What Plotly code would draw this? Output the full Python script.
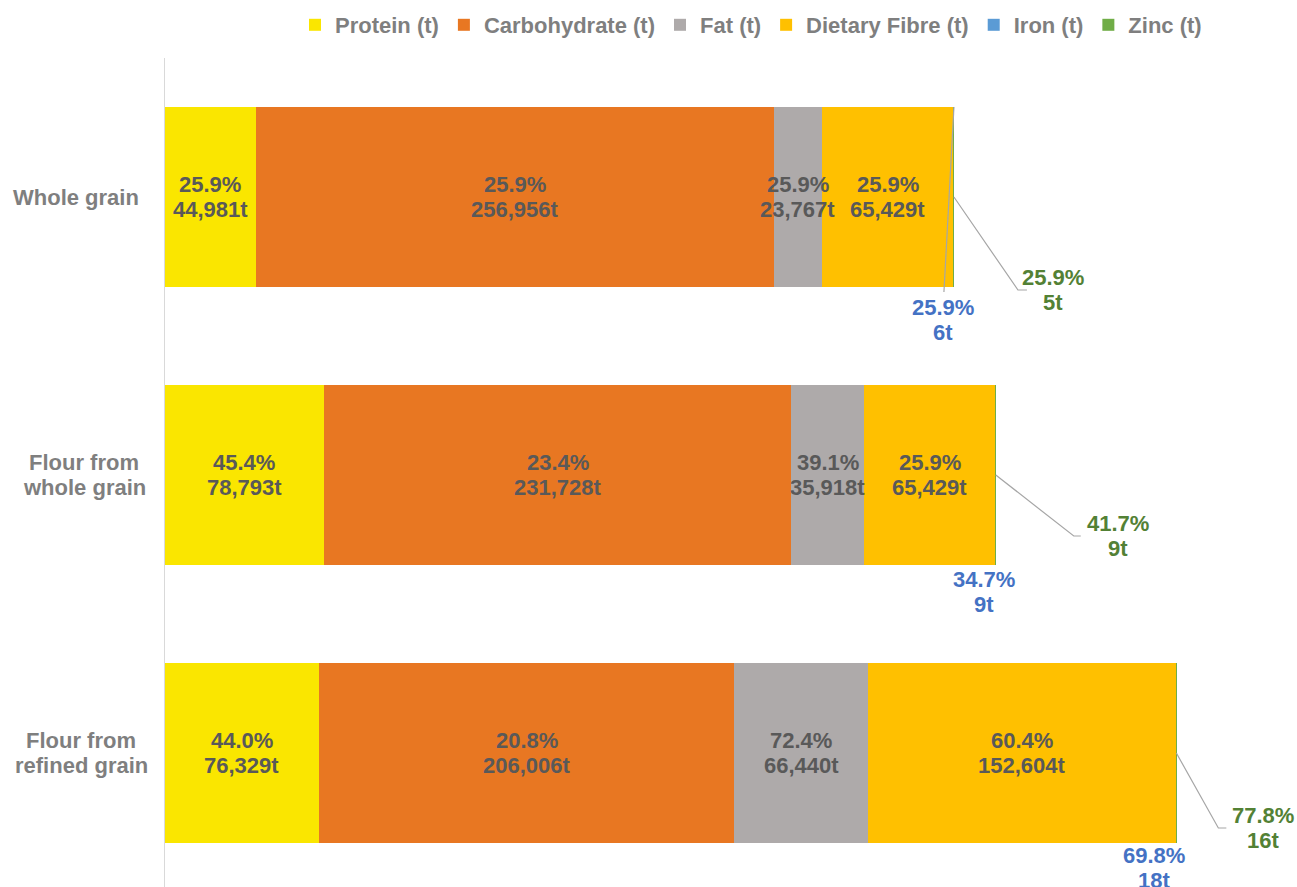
import plotly.graph_objects as go

categories = ["Whole grain", "Flour from whole grain", "Flour from refined grain"]
category_lines = [["Whole grain"], ["Flour from", "whole grain"], ["Flour from", "refined grain"]]

protein = [44981, 78793, 76329]
carb = [256956, 231728, 206006]
fat = [23767, 35918, 66440]
fibre = [65429, 65429, 152604]
iron = [6, 9, 18]
zinc = [5, 9, 16]

protein_pct = ["25.9%", "45.4%", "44.0%"]
carb_pct = ["25.9%", "23.4%", "20.8%"]
fat_pct = ["25.9%", "39.1%", "72.4%"]
fibre_pct = ["25.9%", "25.9%", "60.4%"]
iron_pct = ["25.9%", "34.7%", "69.8%"]
zinc_pct = ["25.9%", "41.7%", "77.8%"]

# layout constants
W, H = 1297, 887
ML, MR, MT, MB = 165, 17, 58, 0
PLOT_W = W - ML - MR
PLOT_H = H - MT - MB
BAND = 278.0
XMAX = PLOT_W / 0.002017
PX_X = XMAX / PLOT_W  # data units per pixel (x)
PX_Y = 1.0 / BAND     # category units per pixel (y)
FONT = "Liberation Sans, Arial, sans-serif"
LABEL_COLOR = "#595959"
AXIS_TEXT = "#7F7F7F"
FS = 22
LINE_GAP = 25
CAT_LABEL_CENTER = [76, 84, 81]

fig = go.Figure()
series = [
    ("Protein (t)", protein, protein_pct, "#FAE600"),
    ("Carbohydrate (t)", carb, carb_pct, "#E87722"),
    ("Fat (t)", fat, fat_pct, "#AEAAAA"),
    ("Dietary Fibre (t)", fibre, fibre_pct, "#FFC000"),
    ("Iron (t)", iron, iron_pct, "#5B9BD5"),
    ("Zinc (t)", zinc, zinc_pct, "#70AD47"),
]
for name, vals, pcts, color in series:
    fig.add_trace(go.Bar(
        name=name, y=categories, x=vals, orientation="h",
        marker=dict(color=color, line=dict(width=0)),
        hoverinfo="skip",
    ))

annotations = []
shapes = []


def two_lines(x, y, lines, color, xref="x", xanchor="center"):
    n = len(lines)
    for k, line in enumerate(lines):
        shift = ((n - 1) / 2 - k) * LINE_GAP
        annotations.append(dict(xref=xref, yref="y", x=x, y=y, yshift=shift,
                                xanchor=xanchor, yanchor="middle",
                                showarrow=False, text=line,
                                font=dict(family=FONT, size=FS, color=color, weight="bold")))


# inside-bar labels
for r in range(3):
    start = 0
    for name, vals, pcts, color in series[:4]:
        mid = start + vals[r] / 2
        two_lines(mid, r, [pcts[r], f"{vals[r]:,}t"], LABEL_COLOR)
        start += vals[r]

totals = [p + c + f + d + i + z for p, c, f, d, i, z in zip(protein, carb, fat, fibre, iron, zinc)]

# label placement offsets (pixels relative to bar end / row centre)
zinc_leader = [[(0, 0), (64, 93), (73, 93)], [(0, 0), (78, 61), (85, 61)], [(0, 0), (42, 75), (50, 75)]]
zinc_label_off = [(99, 93), (122, 61), (87, 75)]
iron_leader = [[(0, -90), (-10, 95)], None, None]
iron_label_off = [(-11, 123), (-12, 117), (-22, 115)]

for r in range(3):
    tx = totals[r]

    def pt(dx, dy):
        return tx + dx * PX_X, r + dy * PX_Y

    pts = [pt(dx, dy) for dx, dy in zinc_leader[r]]
    path = "M " + " L ".join(f"{x},{y}" for x, y in pts)
    shapes.append(dict(type="path", xref="x", yref="y", path=path,
                       line=dict(color="#A6A6A6", width=1.2)))
    if iron_leader[r]:
        pts = [pt(dx, dy) for dx, dy in iron_leader[r]]
        path = "M " + " L ".join(f"{x},{y}" for x, y in pts)
        shapes.append(dict(type="path", xref="x", yref="y", path=path,
                           line=dict(color="#A6A6A6", width=1.2)))
    zx, zy = pt(*zinc_label_off[r])
    two_lines(zx, zy, [zinc_pct[r], f"{zinc[r]:,}t"], "#538135")
    ix, iy = pt(*iron_label_off[r])
    two_lines(ix, iy, [iron_pct[r], f"{iron[r]:,}t"], "#4472C4")
    two_lines((CAT_LABEL_CENTER[r] - ML) / PLOT_W, r, category_lines[r], AXIS_TEXT, xref="paper")

fig.update_layout(
    width=W, height=H,
    margin=dict(l=ML, r=MR, t=MT, b=MB, pad=0),
    barmode="stack",
    bargap=1 - 180 / BAND,
    plot_bgcolor="white", paper_bgcolor="white",
    font=dict(family=FONT, size=FS, color=AXIS_TEXT),
    showlegend=True,
    legend=dict(orientation="h", x=(751 - ML) / PLOT_W, xanchor="center",
                y=1 + (MT - 25) / PLOT_H, yanchor="middle",
                font=dict(family=FONT, size=FS, color=AXIS_TEXT, weight="bold"),
                traceorder="normal", itemwidth=30, tracegroupgap=0),
    xaxis=dict(range=[0, XMAX], showgrid=False, zeroline=False, showticklabels=False,
               showline=False, ticks=""),
    yaxis=dict(categoryorder="array", categoryarray=categories,
               range=[2.5 - 5 * PX_Y, -0.5], showgrid=False, zeroline=False,
               showticklabels=False, showline=True, linecolor="#D9D9D9", linewidth=1,
               ticks=""),
    shapes=shapes,
    annotations=annotations,
)

fig.write_html("out.html")
